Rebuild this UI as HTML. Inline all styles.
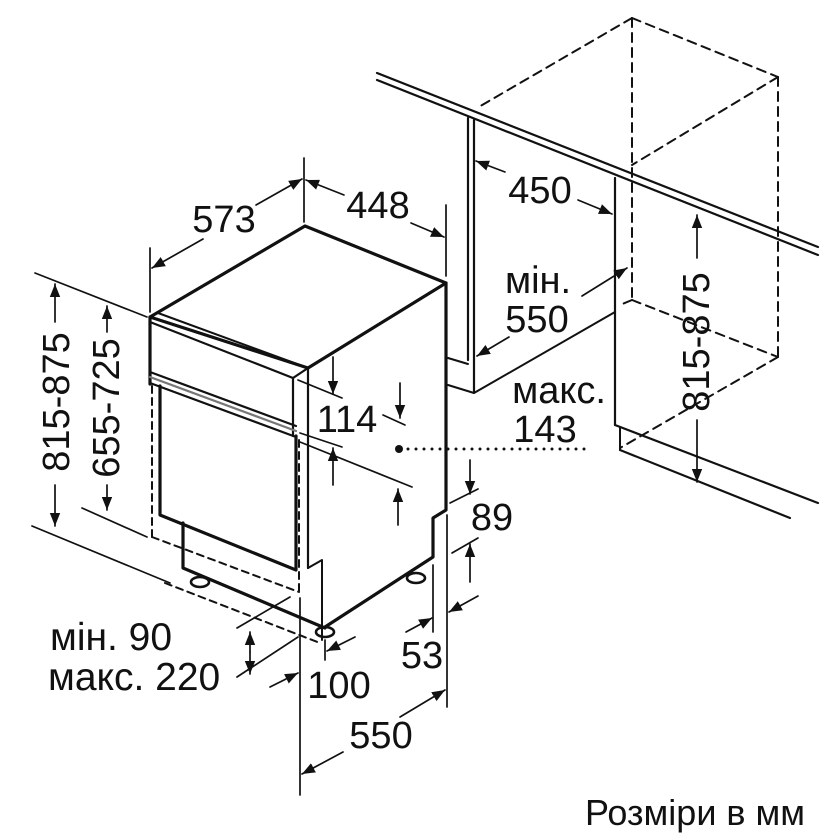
<!DOCTYPE html>
<html><head><meta charset="utf-8"><style>
html,body{margin:0;padding:0;background:#fff}
svg{display:block}
text{font-family:"Liberation Sans",Arial,sans-serif;fill:#111}
</style></head><body>
<svg width="840" height="840" viewBox="0 0 840 840" xmlns="http://www.w3.org/2000/svg">
<defs>
<marker id="a" viewBox="0 0 10 10" refX="10" refY="5" markerWidth="13" markerHeight="13" markerUnits="userSpaceOnUse" orient="auto-start-reverse">
<path d="M0,1 L10,5 L0,9 z" fill="#111"/></marker>
</defs>
<g stroke="#111" fill="none" stroke-linecap="round" stroke-linejoin="round">
<line x1="377" y1="73" x2="818" y2="247" stroke-width="2.2"/>
<line x1="377" y1="80" x2="818" y2="255" stroke-width="2.2"/>
<line x1="468" y1="118" x2="468" y2="360" stroke-width="2.2"/>
<line x1="474" y1="120" x2="474" y2="392" stroke-width="2.2"/>
<line x1="448" y1="358" x2="468" y2="364" stroke-width="2"/>
<line x1="448" y1="385" x2="474" y2="393" stroke-width="2"/>
<line x1="474" y1="393" x2="615" y2="312" stroke-width="2"/>
<line x1="615" y1="178" x2="615" y2="425" stroke-width="2.2"/>
<line x1="615" y1="425" x2="818" y2="503" stroke-width="2.2"/>
<line x1="620" y1="428" x2="620" y2="450" stroke-width="2"/>
<line x1="620" y1="450" x2="790" y2="518" stroke-width="2.2"/>
<g stroke-dasharray="9,6" stroke-width="2">
<line x1="632" y1="18" x2="477" y2="108"/>
<line x1="632" y1="18" x2="778" y2="77"/>
<line x1="632" y1="18" x2="632" y2="300"/>
<line x1="778" y1="77" x2="778" y2="357"/>
<line x1="778" y1="77" x2="632" y2="165"/>
<line x1="632" y1="300" x2="778" y2="357"/>
<line x1="632" y1="300" x2="620" y2="305"/>
<line x1="778" y1="357" x2="620" y2="448"/>
</g>
<polygon points="150,317 305,226 446,283 308,368" stroke-width="3.2"/>
<line x1="158" y1="313" x2="308" y2="368" stroke-width="2"/>
<line x1="150" y1="322" x2="293" y2="378" stroke-width="2.2"/>
<line x1="293" y1="378" x2="308" y2="368" stroke-width="2.2"/>
<line x1="150" y1="317" x2="150" y2="384" stroke-width="3.2"/>
<line x1="293" y1="378" x2="293" y2="436" stroke-width="2.2"/>
<line x1="308" y1="368" x2="308" y2="568" stroke-width="2.2"/>
<line x1="150" y1="372" x2="296" y2="426" stroke-width="2.2"/>
<line x1="150" y1="377" x2="296" y2="431" stroke-width="2.2" stroke="#777"/>
<line x1="150" y1="383" x2="296" y2="437" stroke-width="2.2"/>
<polyline points="446,283 446,510 433,518 433,557 325,627" stroke-width="3.2"/>
<polyline points="308,568 322,560 322,640" stroke-width="2"/>
<polyline points="160,386 160,515 296,570 296,436" stroke-width="3.2"/>
<polyline points="183,523 183,568 325,628" stroke-width="3.2"/>
<ellipse cx="200" cy="582" rx="9" ry="5" stroke-width="2.6"/>
<ellipse cx="325" cy="632" rx="9" ry="5" stroke-width="2.6"/>
<ellipse cx="416" cy="578" rx="9" ry="5" stroke-width="2.6"/>
<g stroke-dasharray="7,5" stroke-width="2">
<line x1="152" y1="386" x2="152" y2="537"/>
<line x1="299" y1="440" x2="299" y2="592"/>
<line x1="152" y1="537" x2="299" y2="592"/>
<line x1="165" y1="583" x2="320" y2="643"/>
</g>
<g stroke-width="1.7">
<line x1="150" y1="248" x2="150" y2="312"/>
<line x1="304" y1="158" x2="304" y2="222"/>
<line x1="203" y1="239" x2="152" y2="268" marker-end="url(#a)"/>
<line x1="256" y1="205" x2="302" y2="179" marker-end="url(#a)"/>
<line x1="446" y1="205" x2="446" y2="276"/>
<line x1="344" y1="195" x2="306" y2="180" marker-end="url(#a)"/>
<line x1="411" y1="223" x2="444" y2="237" marker-end="url(#a)"/>
<line x1="505" y1="172" x2="476" y2="161" marker-end="url(#a)"/>
<line x1="578" y1="200" x2="612" y2="214" marker-end="url(#a)"/>
<line x1="582" y1="296" x2="627" y2="268" marker-end="url(#a)"/>
<line x1="509" y1="337" x2="477" y2="356" marker-end="url(#a)"/>
<line x1="697" y1="258" x2="697" y2="215" marker-end="url(#a)"/>
<line x1="697" y1="420" x2="697" y2="482" marker-end="url(#a)"/>
<line x1="35" y1="273" x2="147" y2="317"/>
<line x1="32" y1="526" x2="170" y2="583"/>
<line x1="55" y1="322" x2="55" y2="284" marker-end="url(#a)"/>
<line x1="55" y1="485" x2="55" y2="526" marker-end="url(#a)"/>
<line x1="82" y1="508" x2="147" y2="537"/>
<line x1="107" y1="332" x2="107" y2="306" marker-end="url(#a)"/>
<line x1="107" y1="485" x2="107" y2="510" marker-end="url(#a)"/>
<line x1="298" y1="380" x2="342" y2="398"/>
<line x1="300" y1="433" x2="342" y2="447"/>
<line x1="300" y1="442" x2="412" y2="487"/>
<line x1="383" y1="415" x2="405" y2="425"/>
<line x1="333" y1="357" x2="333" y2="394" marker-end="url(#a)"/>
<line x1="400" y1="383" x2="400" y2="418" marker-end="url(#a)"/>
<line x1="333" y1="485" x2="333" y2="448" marker-end="url(#a)"/>
<line x1="398" y1="525" x2="398" y2="489" marker-end="url(#a)"/>
<line x1="450" y1="503" x2="478" y2="489"/>
<line x1="452" y1="553" x2="478" y2="538"/>
<line x1="470" y1="460" x2="470" y2="494" marker-end="url(#a)"/>
<line x1="470" y1="582" x2="470" y2="544" marker-end="url(#a)"/>
<line x1="433" y1="565" x2="433" y2="632"/>
<line x1="447" y1="515" x2="447" y2="707"/>
<line x1="406" y1="632" x2="432" y2="618" marker-end="url(#a)"/>
<line x1="478" y1="596" x2="449" y2="612" marker-end="url(#a)"/>
<line x1="300" y1="598" x2="300" y2="795"/>
<line x1="343" y1="752" x2="302" y2="774" marker-end="url(#a)"/>
<line x1="400" y1="717" x2="445" y2="690" marker-end="url(#a)"/>
<line x1="325" y1="640" x2="325" y2="660"/>
<line x1="270" y1="687" x2="298" y2="673" marker-end="url(#a)"/>
<line x1="355" y1="637" x2="327" y2="651" marker-end="url(#a)"/>
<line x1="237" y1="628" x2="290" y2="597"/>
<line x1="237" y1="677" x2="298" y2="637"/>
<line x1="250" y1="652" x2="250" y2="632" marker-end="url(#a)"/>
<line x1="250" y1="652" x2="250" y2="674" marker-end="url(#a)"/>
</g>
<line x1="408" y1="449" x2="590" y2="449" stroke-width="3" stroke-dasharray="0,8"/>
</g>
<circle cx="399" cy="449" r="4" fill="#111"/>
<g font-size="38" text-anchor="middle">
<text x="224" y="232">573</text>
<text x="378" y="218">448</text>
<text x="540" y="203">450</text>
<text x="538" y="293">мін.</text>
<text x="537" y="332">550</text>
<text x="559" y="403">макс.</text>
<text x="545" y="442">143</text>
<text x="347" y="432">114</text>
<text x="492" y="530">89</text>
<text x="422" y="668">53</text>
<text x="339" y="698">100</text>
<text x="381" y="748">550</text>
<text transform="translate(69,402) rotate(-90)">815-875</text>
<text transform="translate(119,408) rotate(-90)">655-725</text>
<text transform="translate(709,342) rotate(-90)">815-875</text>
</g>
<g font-size="39">
<text x="50" y="650">мін. 90</text>
<text x="48" y="690">макс. 220</text>
</g>
<text x="585" y="825" font-size="36">Розміри в мм</text>
</svg>
</body></html>
